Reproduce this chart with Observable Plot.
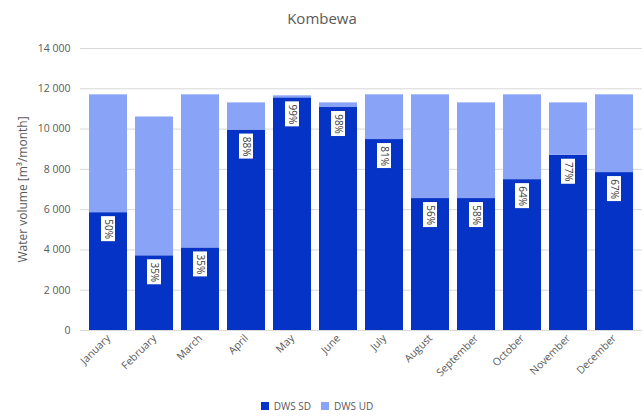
<!DOCTYPE html>
<html>
<head>
<meta charset="utf-8">
<script src="https://cdn.jsdelivr.net/npm/d3@7"></script>
<script src="https://cdn.jsdelivr.net/npm/@observablehq/plot@0.6"></script>
<style>
  body { margin: 0; background: #fff; font-family: "Open Sans", sans-serif; }
  #title { height: 36px; line-height: 36px; text-align: center; font-size: 15px; color: #595959; }
  #legend { display: flex; justify-content: center; height: 21px; align-items: center; }
</style>
</head>
<body>
<div id="title">Kombewa</div>
<div id="chart"></div>
<div id="legend"></div>
<script>
// Monthly drinking-water supply at Kombewa, split into supplied (SD) and unsupplied (UD) demand
const months = ["January","February","March","April","May","June","July","August","September","October","November","December"];
const dwsSD = [5850, 3710, 4100, 9950, 11550, 11070, 9480, 6550, 6550, 7490, 8700, 7840];
const dwsUD = [5850, 6890, 7600, 1350, 100, 230, 2220, 5150, 4750, 4210, 2600, 3860];
const seriesNames = ["DWS SD", "DWS UD"];
const seriesColors = ["#0533c6", "#89a3f6"];
const yTicks = [0, 2000, 4000, 6000, 8000, 10000, 12000, 14000];

const rows = [];
months.forEach((m, i) => {
  rows.push({month: m, series: seriesNames[0], value: dwsSD[i]});
  rows.push({month: m, series: seriesNames[1], value: dwsUD[i]});
});
const share = months.map((m, i) => ({
  month: m,
  sd: dwsSD[i],
  label: Math.round(100 * dwsSD[i] / (dwsSD[i] + dwsUD[i])) + "%"
}));

const fmt = d3.formatLocale({thousands: " ", grouping: [3], decimal: ","}).format(",");
const gray = "#595959";

const chart = Plot.plot({
  width: 644,
  height: 362,
  marginTop: 12,
  marginBottom: 68,
  marginLeft: 80,
  marginRight: 2,
  style: {fontFamily: "Open Sans, sans-serif", fontSize: "10.5px", color: gray},
  x: {domain: months, paddingInner: 0.17, paddingOuter: 0.09},
  y: {domain: [0, 14000]},
  color: {domain: seriesNames, range: seriesColors},
  marks: [
    Plot.gridY(yTicks, {stroke: "#d9d9d9", strokeOpacity: 1}),
    Plot.barY(rows, {x: "month", y: "value", fill: "series"}),
    Plot.ruleY([0], {stroke: "#d9d9d9"}),
    // white label boxes just below the top of each SD bar
    Plot.barY(share, {x: "month", y1: "sd", y2: "sd", fill: "white", insetLeft: 12, insetRight: 12, insetBottom: -25, dy: 4}),
    Plot.text(share, {x: "month", y: "sd", text: "label", rotate: 90, dy: 16.5, fill: "#404040", fontSize: 10, textAnchor: "middle"}),
    Plot.axisY(yTicks, {tickSize: 0, tickPadding: 10, tickFormat: fmt, fill: gray, fontSize: 10.5, label: null}),
    Plot.axisY([], {tickSize: 0, fill: gray, fontSize: 12,
      label: "Water volume [m³/month]", labelAnchor: "center", labelArrow: "none", labelOffset: 62}),
    Plot.axisX({tickSize: 0, tickPadding: 6, tickRotate: -45, fill: gray, fontSize: 10.5, label: null})
  ]
});
document.getElementById("chart").appendChild(chart);

const legend = Plot.legend({
  color: {domain: seriesNames, range: seriesColors},
  swatchSize: 8,
  style: {fontFamily: "Open Sans, sans-serif", fontSize: "10px", color: gray}
});
document.getElementById("legend").appendChild(legend);
</script>
</body>
</html>
